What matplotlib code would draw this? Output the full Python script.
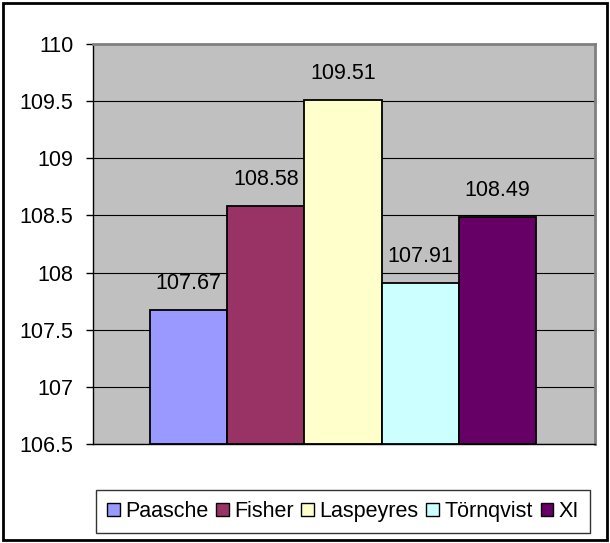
import matplotlib
matplotlib.use("Agg")
import matplotlib.pyplot as plt
from matplotlib.patches import Patch, Rectangle

indices = ["Paasche", "Fisher", "Laspeyres", "Törnqvist", "XI"]
values = [107.67, 108.58, 109.51, 107.91, 108.49]
colors = ["#9999FF", "#993366", "#FFFFCC", "#CCFFFF", "#660066"]
yticks = [106.5, 107, 107.5, 108, 108.5, 109, 109.5, 110]
ytick_labels = ["106.5", "107", "107.5", "108", "108.5", "109", "109.5", "110"]

plt.rcParams["font.family"] = ["Liberation Sans", "DejaVu Sans"]
FS = 15.5

W, H = 610, 543
fig = plt.figure(figsize=(W / 100, H / 100), dpi=100)
fig.patch.set_facecolor("white")

ax = fig.add_axes([93 / W, (H - 444) / H, 502 / W, 400 / H])
ax.set_facecolor("#C0C0C0")

base = yticks[0]
xs = list(range(len(values)))
ax.bar(xs, [v - base for v in values], bottom=base, width=1.0,
       color=colors, edgecolor="black", linewidth=1.3, zorder=3)
for x, v in zip(xs, values):
    ax.annotate(f"{v:.2f}", (x, v), xytext=(0, 15), textcoords="offset points",
                ha="center", va="baseline", fontsize=FS, zorder=4)

ax.set_ylim(yticks[0], yticks[-1])
bw = 77
ax.set_xlim(-0.5 - (150 - 93) / bw, len(values) - 0.5 + (595 - 536) / bw)
ax.set_yticks(yticks)
ax.set_yticklabels(ytick_labels, fontsize=FS)
ax.set_xticks([])
ax.tick_params(axis="y", direction="out", length=5, width=1, pad=9, colors="black")
ax.yaxis.grid(True, color="black", linewidth=0.8, zorder=1)
ax.set_axisbelow(True)
for s in ["top", "right"]:
    ax.spines[s].set_color("#808080")
    ax.spines[s].set_linewidth(2.0)
for s in ["left", "bottom"]:
    ax.spines[s].set_color("black")
    ax.spines[s].set_linewidth(1.0)

handles = [Patch(facecolor=c, edgecolor="black", linewidth=1.0) for c in colors]
leg = fig.legend(handles, indices, loc="center",
                 bbox_to_anchor=(343 / W, (H - 511.5) / H), ncol=5,
                 fontsize=FS, frameon=True, fancybox=False, edgecolor="black",
                 handlelength=0.6, handleheight=0.6, handletextpad=0.25,
                 columnspacing=0.35, borderpad=0.5, borderaxespad=0)
leg.get_frame().set_linewidth(1.0)

fig.add_artist(Rectangle((3 / W, 3 / H), (W - 6) / W, (H - 6) / H,
                         transform=fig.transFigure, fill=False,
                         edgecolor="black", linewidth=2.0))

fig.savefig("out.png", dpi=100)
